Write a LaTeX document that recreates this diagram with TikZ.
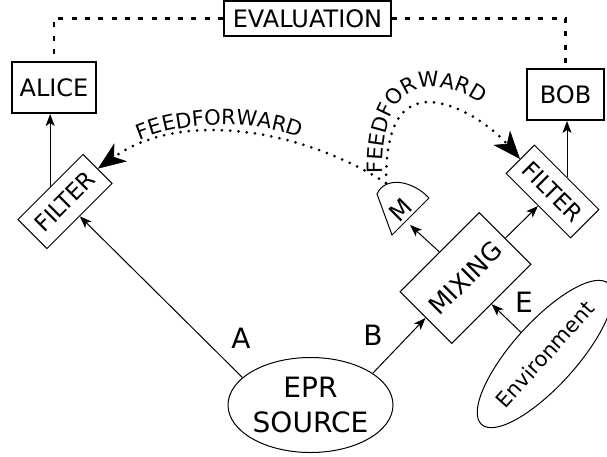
\documentclass[tikz,border=0pt]{standalone}
\usepackage{fontspec}
\setmainfont{DejaVu Sans}
\usetikzlibrary{arrows.meta,shapes.geometric,decorations.text}
\begin{document}
\begin{tikzpicture}[x=1pt,y=-1pt,
  thickbox/.style={draw, rectangle, line width=2pt, inner sep=0pt, font=\fontsize{24}{28}\selectfont},
  thinbox/.style={draw, rectangle, line width=1pt, inner sep=0pt, font=\fontsize{23}{27}\selectfont},
  arr/.style={line width=1pt, -{Stealth[length=12pt,width=9pt,inset=3pt]}},
  dotline/.style={line width=3pt, line cap=round, dash pattern=on 0pt off 8.3pt,
     -{Stealth[length=28pt,width=22pt,inset=8pt,line width=0.6pt]}},
  evaldash/.style={line width=2.2pt, dash pattern=on 5pt off 8.3pt},
  lab/.style={font=\fontsize{28}{32}\selectfont, inner sep=0pt},
  ffpath/.style={decorate, decoration={text along path, text={|\fontsize{21}{25}\selectfont|FEEDFORWARD}, #1}}
]
\useasboundingbox (0,0) rectangle (607,456);

% boxes
\node[thickbox, minimum width=167pt, minimum height=35pt] (eval) at (307.5,18.5) {EVALUATION};
\node[thickbox, minimum width=84pt, minimum height=51pt] (alice) at (54,87.5) {ALICE};
\node[thickbox, minimum width=77pt, minimum height=51pt] (bob) at (565.5,94.5) {BOB};
\node[thinbox, minimum width=92pt, minimum height=41pt, rotate=45] (filterL) at (65,201.5) {FILTER};
\node[thinbox, minimum width=91pt, minimum height=40pt, rotate=-45] (filterR) at (552.5,191.5) {FILTER};
\node[thinbox, minimum width=112pt, minimum height=73pt, rotate=45, font=\fontsize{25}{29}\selectfont] (mixing) at (465.5,278) {MIXING};
\node[draw, ellipse, line width=1pt, minimum width=165pt, minimum height=95pt, inner sep=0pt,
      align=center, font=\fontsize{28}{35}\selectfont] (epr) at (310.5,405) {EPR\\SOURCE};
\node[draw, ellipse, line width=1pt, minimum width=166pt, minimum height=64pt, inner sep=0pt,
      rotate=48, font=\fontsize{21}{25}\selectfont] (env) at (545,354) {Environment};

% measurement detector M
\draw[line width=1pt] (392,235) -- (429,198) .. controls (412,180) and (385,176) .. (377,194) -- cycle;
\node[rotate=45, font=\fontsize{24}{28}\selectfont, inner sep=0pt] (M) at (401,210) {M};
\coordinate (Mtop) at (386,183);
\coordinate (Min) at (410,225);

% evaluation links
\draw[evaldash] (eval.west) -| (alice.north);
\draw[evaldash] (eval.east) -| (bob.north);

% arrows
\draw[arr] (filterL.north) -- (filterL.north |- alice.south);
\draw[arr] (filterR.north) -- (filterR.north |- bob.south);
\draw[arr] (epr.158) -- (filterL.south);
\draw[arr] (epr.27) -- (mixing.west);
\draw[arr] (mixing.north) -- (Min);
\draw[arr] (mixing.east) -- (filterR.south);
\draw[arr] (env.north) -- (mixing.south);

% labels
\node[lab] (labA) at (241,338) {A};
\node[lab] (labB) at (373,335) {B};
\node[lab] (labE) at (524,302) {E};

% feedforward
\draw[dotline] (Mtop) .. controls (300,128) and (180,110) .. (filterL.east);
\draw[dotline] (Mtop) .. controls (386,130) and (398,104) .. (427,102) .. controls (460,102) and (495,130) .. (filterR.west);
\path[ffpath={text align=center}] (138,141) .. controls (180,122) and (250,118) .. (302,138);
\path[ffpath={text align=left}] (383,173) .. controls (381,120) and (398,88) .. (430,87) .. controls (455,87) and (475,97) .. (497,116);
\end{tikzpicture}
\end{document}
